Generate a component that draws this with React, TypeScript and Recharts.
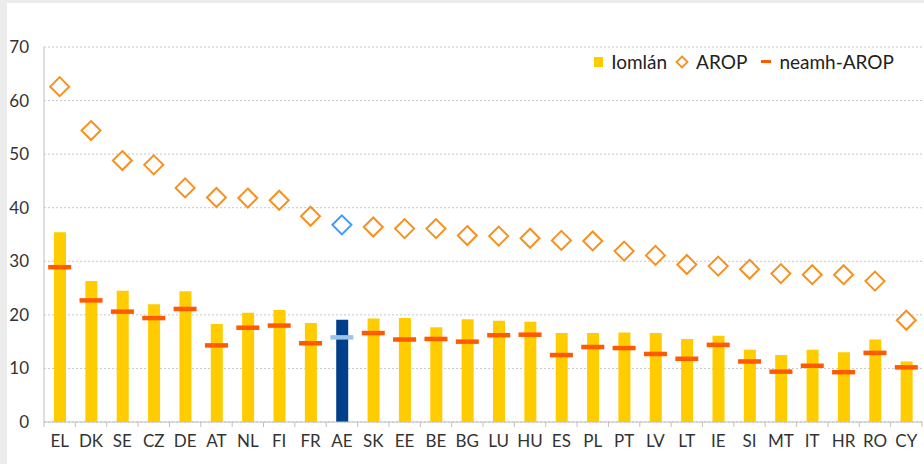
import React from 'react';
import {
  ComposedChart,
  Bar,
  Scatter,
  Cell,
  XAxis,
  YAxis,
  CartesianGrid,
  Legend,
} from 'recharts';

const countries = [
  'EL', 'DK', 'SE', 'CZ', 'DE', 'AT', 'NL', 'FI', 'FR', 'AE', 'SK', 'EE', 'BE', 'BG',
  'LU', 'HU', 'ES', 'PL', 'PT', 'LV', 'LT', 'IE', 'SI', 'MT', 'IT', 'HR', 'RO', 'CY',
];

const iomlan = [
  35.4, 26.3, 24.5, 22.0, 24.4, 18.3, 20.4, 20.9, 18.5, 19.1, 19.3, 19.4, 17.7, 19.2,
  18.9, 18.7, 16.6, 16.6, 16.7, 16.6, 15.5, 16.1, 13.5, 12.5, 13.5, 13.0, 15.4, 11.3,
];

const arop = [
  62.6, 54.4, 48.8, 48.0, 43.7, 41.9, 41.8, 41.4, 38.4, 36.8, 36.4, 36.1, 36.1, 34.8,
  34.7, 34.3, 33.9, 33.8, 31.9, 31.1, 29.4, 29.1, 28.5, 27.7, 27.5, 27.5, 26.3, 19.0,
];

const neamhArop = [
  28.9, 22.7, 20.6, 19.4, 21.1, 14.3, 17.6, 18.0, 14.7, 15.8, 16.6, 15.4, 15.5, 15.0,
  16.2, 16.3, 12.5, 14.0, 13.8, 12.7, 11.8, 14.4, 11.3, 9.4, 10.5, 9.3, 12.9, 10.2,
];

const yTicks = [0, 10, 20, 30, 40, 50, 60, 70];
const highlight = 'AE';

const data = countries.map((code, i) => ({
  code,
  iomlan: iomlan[i],
  arop: arop[i],
  neamh: neamhArop[i],
}));

const FONT = 'Lato, "Open Sans", sans-serif';
const BAND = 878 / countries.length;

// diamond marker for AROP
const Diamond = (props: any) => {
  const { cx, cy, payload } = props;
  if (cx == null || cy == null) return null;
  const r = 9.5;
  const color = payload.code === highlight ? '#3d9bff' : '#f7901e';
  return (
    <path
      d={`M${cx},${cy - r} L${cx + r},${cy} L${cx},${cy + r} L${cx - r},${cy} Z`}
      fill="#fff"
      stroke={color}
      strokeWidth={2}
    />
  );
};

// short horizontal dash for neamh-AROP
const Dash = (props: any) => {
  const { cx, cy, payload } = props;
  if (cx == null || cy == null) return null;
  const color = payload.code === highlight ? '#9dc3e6' : '#ff5a00';
  return <rect x={cx - 11.5} y={cy - 2.25} width={23} height={4.5} fill={color} />;
};

const XTick = (props: any) => {
  const { x, y, payload, index } = props;
  const left = x - BAND / 2;
  return (
    <g>
      <line x1={left} y1={y - 8} x2={left} y2={y - 3} stroke="#bfbfbf" />
      {index === countries.length - 1 && (
        <line x1={x + BAND / 2} y1={y - 8} x2={x + BAND / 2} y2={y - 3} stroke="#bfbfbf" />
      )}
      <text x={x} y={y + 17} textAnchor="middle" fill="#333" fontSize={17} fontFamily={FONT}>
        {payload.value}
      </text>
    </g>
  );
};

const LegendContent = () => (
  <div
    style={{
      display: 'flex',
      alignItems: 'center',
      fontFamily: FONT,
      fontSize: 19,
      color: '#222',
      whiteSpace: 'nowrap',
    }}
  >
    <span style={{ width: 9, height: 10, background: '#ffcc00', display: 'inline-block', marginRight: 8 }} />
    <span style={{ marginRight: 8 }}>Iomlán</span>
    <svg width={14} height={14} style={{ marginRight: 7 }}>
      <path d="M7,1.5 L12.5,7 L7,12.5 L1.5,7 Z" fill="#fff" stroke="#f7901e" strokeWidth={1.8} />
    </svg>
    <span style={{ marginRight: 14 }}>AROP</span>
    <span style={{ width: 10, height: 3, background: '#ff5a00', display: 'inline-block', marginRight: 8 }} />
    <span>neamh-AROP</span>
  </div>
);

export default function App() {
  return (
    <div style={{ position: 'absolute', left: 0, top: 0, width: 924, height: 464, background: '#ececec' }}>
      <div style={{ position: 'absolute', left: 7, top: 3, width: 917, height: 461, background: '#fff' }} />
      <div style={{ position: 'absolute', left: 0, top: 0 }}>
        <ComposedChart
          width={924}
          height={464}
          data={data}
          margin={{ top: 24, right: 2, left: 0, bottom: 0 }}
          barCategoryGap={0}
        >
          <CartesianGrid vertical={false} stroke="#c8c8c8" strokeDasharray="2 2" />
          <XAxis
            dataKey="code"
            interval={0}
            height={42}
            tickLine={false}
            axisLine={{ stroke: '#bfbfbf' }}
            tick={<XTick />}
          />
          <YAxis
            domain={[0, 70]}
            ticks={yTicks}
            width={44}
            tickLine={false}
            axisLine={{ stroke: '#bfbfbf' }}
            tickMargin={9}
            tick={{ fill: '#333', fontSize: 17, fontFamily: FONT }}
          />
          <Legend
            verticalAlign="top"
            align="right"
            content={<LegendContent />}
            wrapperStyle={{ top: 50, right: 30, left: 'auto', width: 'auto' }}
          />
          <Bar dataKey="iomlan" name="Iomlán" barSize={12} fill="#ffcc00" isAnimationActive={false}>
            {data.map((d) => (
              <Cell key={d.code} fill={d.code === highlight ? '#003f8a' : '#ffcc00'} />
            ))}
          </Bar>
          <Scatter dataKey="neamh" name="neamh-AROP" shape={<Dash />} isAnimationActive={false} />
          <Scatter dataKey="arop" name="AROP" shape={<Diamond />} isAnimationActive={false} />
        </ComposedChart>
      </div>
    </div>
  );
}
